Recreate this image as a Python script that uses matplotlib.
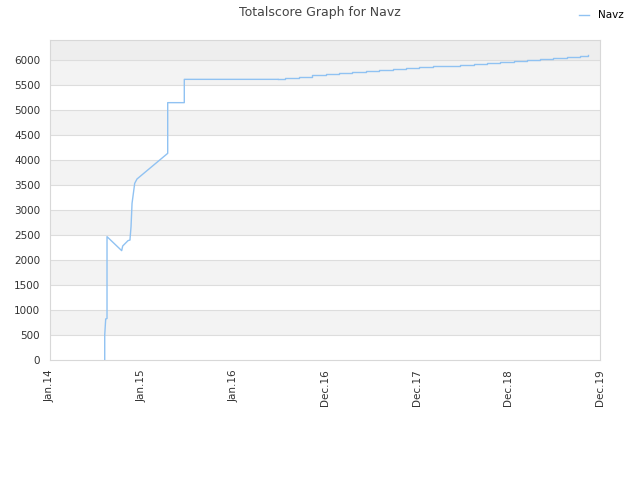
import numpy as np
import matplotlib.pyplot as plt

tick_labels = ['Jan.14', 'Jan.15', 'Jan.16', 'Dec.16', 'Dec.17', 'Dec.18', 'Dec.19']

# early climb (x in tick units, 0 = Jan.14)
early_x = [0.597, 0.597, 0.607, 0.607, 0.622, 0.622, 0.782, 0.793, 0.851, 0.873,
           0.873, 0.884, 0.895, 0.924, 0.949, 1.284, 1.284, 1.465, 1.465, 2.487]
early_y = [0, 500, 800, 820, 830, 2467, 2187, 2280, 2387, 2400,
           2420, 2667, 3133, 3533, 3620, 4133, 5147, 5147, 5613, 5613]

# slow stepped growth afterwards
step_x = [2.487, 2.564, 2.716, 2.858, 3.011, 3.153, 3.294, 3.447, 3.589, 3.742,
          3.884, 4.025, 4.178, 4.320, 4.473, 4.625, 4.767, 4.909, 5.062, 5.204,
          5.345, 5.487, 5.640, 5.782, 5.869]
step_y = [5613, 5647, 5667, 5693, 5713, 5733, 5753, 5773, 5793, 5813,
          5833, 5853, 5873, 5887, 5907, 5927, 5947, 5960, 5980, 6000,
          6020, 6040, 6060, 6080, 6107]

color = '#90c2f2'

fig = plt.figure(figsize=(6.4, 4.8), dpi=100)
ax = fig.add_axes([50 / 640, 120 / 480, 550 / 640, 320 / 480])

ymax = 6400
for lo in range(500, 6000, 1000):
    ax.axhspan(lo, lo + 500, color='#f3f3f3', zorder=0, lw=0)
ax.axhspan(6000, ymax, color='#eeeeee', zorder=0, lw=0)
for v in range(500, 6001, 500):
    ax.axhline(v, color='#dddddd', lw=0.8, zorder=1)

ax.plot(early_x, early_y, color=color, lw=1, zorder=3, label='Navz')
ax.plot(step_x, step_y, color=color, lw=1, zorder=3, drawstyle='steps-post')

ax.set_xlim(0, 6)
ax.set_ylim(0, ymax)
ax.set_xticks(range(len(tick_labels)))
ax.set_xticklabels(tick_labels, rotation=90)
ax.set_yticks(range(0, 6001, 500))
ax.tick_params(length=0, labelsize=7.5, colors='#333333', pad=7)
for s in ax.spines.values():
    s.set_color('#d8d8d8')
    s.set_linewidth(0.8)

fig.suptitle('Totalscore Graph for Navz', x=0.5, y=0.988, fontsize=9, color='#444444')
fig.legend(loc='upper right', bbox_to_anchor=(0.99, 0.998), frameon=False,
           fontsize=7.5, handlelength=1.0, handletextpad=0.9)

fig.savefig('out.png', dpi=100)
